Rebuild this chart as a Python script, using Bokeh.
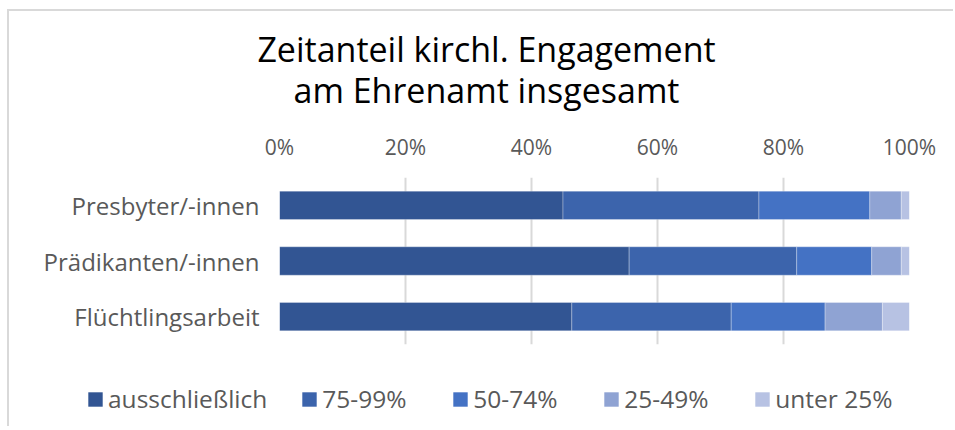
from bokeh.plotting import figure
from bokeh.layouts import column
from bokeh.models import (ColumnDataSource, FactorRange, FixedTicker, Legend,
                          LegendItem, Range1d)
from bokeh.core.properties import value
from bokeh.embed import file_html
from bokeh.resources import INLINE

# ---- data ----
categories = ["Presbyter/-innen", "Prädikanten/-innen", "Flüchtlingsarbeit"]
series_names = ["ausschließlich", "75-99%", "50-74%", "25-49%", "unter 25%"]
ausschliesslich = [45.0, 55.5, 46.4]
p75_99 = [31.1, 26.6, 25.3]
p50_74 = [17.6, 11.9, 14.9]
p25_49 = [5.0, 4.7, 9.1]
unter25 = [1.3, 1.3, 4.3]
tick_values = [0, 20, 40, 60, 80, 100]
tick_labels = ["0%", "20%", "40%", "60%", "80%", "100%"]
title_lines = ["Zeitanteil kirchl. Engagement", "am Ehrenamt insgesamt"]

colors = ["#325593", "#3C64AC", "#4472C4", "#8FA3D3", "#B7C2E3"]
keys = ["s0", "s1", "s2", "s3", "s4"]
FONT = "Open Sans"
GREY = "#595959"
BORDER = "2px solid #d9d9d9"
W = 944

source = ColumnDataSource(dict(cat=categories, s0=ausschliesslich, s1=p75_99,
                               s2=p50_74, s3=p25_49, s4=unter25))


def bare(fig):
    fig.min_border = 0
    fig.outline_line_color = None
    fig.xgrid.grid_line_color = None
    fig.ygrid.grid_line_color = None
    fig.border_fill_alpha = 0
    fig.background_fill_alpha = 0
    fig.frame_align = False


# ---------------- title strip ----------------
TH = 118
tf = figure(width=W, height=TH, output_backend="svg", toolbar_location=None,
            title_location=None, x_axis_type=None, y_axis_type=None,
            x_range=Range1d(0, W), y_range=Range1d(0, TH))
bare(tf)
tsrc = ColumnDataSource(dict(x=[477, 477], y=[TH - 37, TH - 78], t=title_lines))
tf.text(x="x", y="y", text="t", source=tsrc, text_align="center",
        text_baseline="alphabetic", text_font=value(FONT), text_font_size="34px",
        text_color="black")

# ---------------- main chart ----------------
p = figure(width=W, height=217, output_backend="svg", toolbar_location=None,
           title_location=None,
           y_range=FactorRange(*reversed(categories), range_padding=0),
           x_range=(0, 100), x_axis_location="above")
p.frame_align = False
p.min_border_left = 270
p.min_border_right = 44
p.min_border_top = 45
p.min_border_bottom = 2
p.outline_line_color = None
p.background_fill_alpha = 0
p.border_fill_alpha = 0

p.hbar_stack(keys, y="cat", height=0.51, color=colors, source=source,
             line_color="white", line_width=0.6, line_alpha=0.5)

xa = p.xaxis[0]
xa.ticker = FixedTicker(ticks=tick_values)
xa.major_label_overrides = {v: l for v, l in zip(tick_values, tick_labels)}
xa.axis_line_color = None
xa.major_tick_line_color = None
xa.minor_tick_line_color = None
xa.major_label_standoff = 11
xa.major_label_text_font = FONT
xa.major_label_text_font_size = "21px"
xa.major_label_text_color = GREY

ya = p.yaxis[0]
ya.axis_line_color = None
ya.major_tick_line_color = None
ya.minor_tick_line_color = None
ya.major_label_standoff = 14
ya.major_label_text_font = FONT
ya.major_label_text_font_size = "24px"
ya.major_label_text_color = GREY

p.xgrid.ticker = FixedTicker(ticks=tick_values)
p.xgrid.grid_line_color = "#d9d9d9"
p.xgrid.grid_line_width = 2
p.ygrid.grid_line_color = None

# ---------------- legend strip ----------------
LH = 80
lf = figure(width=W, height=LH, output_backend="svg", toolbar_location=None,
            title_location=None, x_axis_type=None, y_axis_type=None,
            x_range=Range1d(-1001, -1000), y_range=FactorRange(*categories))
bare(lf)
# legend proxies: zero-height and outside this strip's x range, so only the
# legend swatches are drawn
proxies = lf.hbar_stack(keys, y="cat", height=0, color=colors, source=source,
                        line_color=None)
items = [LegendItem(label=n, renderers=[r]) for n, r in zip(series_names, proxies)]
legend = Legend(items=items, orientation="horizontal", location=(77, 11),
                glyph_width=18, glyph_height=18, label_standoff=4, spacing=33,
                label_width=96, label_height=26,
                label_text_font=FONT, label_text_font_size="24.5px",
                label_text_color=GREY, border_line_color=None,
                background_fill_alpha=0, padding=0, margin=0)
lf.add_layout(legend, "center")

layout = column(tf, p, lf, spacing=0)
layout.margin = (9, 0, 0, 7)
layout.styles = {"border-left": BORDER, "border-top": BORDER,
                 "background-color": "white"}
open("out.html", "w").write(file_html(layout, INLINE))
